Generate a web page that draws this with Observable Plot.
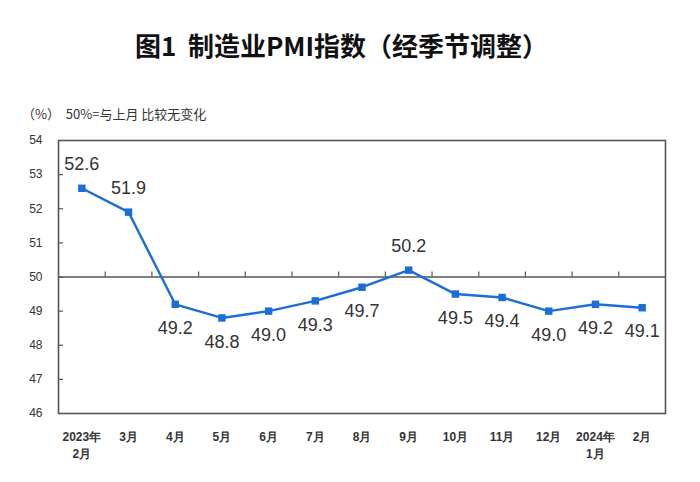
<!DOCTYPE html>
<html>
<head>
<meta charset="utf-8">
<script src="https://cdn.jsdelivr.net/npm/d3@7"></script>
<script src="https://cdn.jsdelivr.net/npm/@observablehq/plot@0.6"></script>
<style>
  html, body { margin: 0; padding: 0; background: #fff; }
  #wrap { position: relative; width: 700px; height: 482px; overflow: hidden; }
  #title { position: absolute; left: 0; width: 683px; top: 26px; text-align: center;
           font-family: "Noto Sans CJK SC", sans-serif; font-weight: 700; font-size: 26px; color: #111; }
  #unit { position: absolute; left: 22px; top: 104px; font-family: "Noto Sans CJK SC", "Liberation Sans", sans-serif;
          font-size: 13px; color: #333; white-space: pre; }
  #chart { position: absolute; left: 0; top: 0; }
</style>
</head>
<body>
<div id="wrap">
  <div id="chart"></div>
  <div id="title">图1&nbsp;&nbsp;制造业PMI指数（经季节调整）</div>
  <div id="unit">（%）  50%=与上月 比较无变化</div>
</div>
<script>
const months = ["2023年\n2月", "3月", "4月", "5月", "6月", "7月", "8月", "9月", "10月", "11月", "12月", "2024年\n1月", "2月"];
const pmi = [52.6, 51.9, 49.2, 48.8, 49.0, 49.3, 49.7, 50.2, 49.5, 49.4, 49.0, 49.2, 49.1];
const labelAbove = [true, true, false, false, false, false, false, true, false, false, false, false, false];
const yTicks = [46, 47, 48, 49, 50, 51, 52, 53, 54];

const data = pmi.map((v, i) => ({i, v, above: labelAbove[i]}));
const boundaries = d3.range(1, months.length).map(i => i - 0.5);
const blue = "#1a6ed6";

const chart = Plot.plot({
  width: 700,
  height: 482,
  marginTop: 140,
  marginBottom: 69,
  marginLeft: 58,
  marginRight: 35,
  style: {fontFamily: "Liberation Sans, Arial, sans-serif", background: "#fff"},
  x: {type: "linear", domain: [-0.5, months.length - 0.5]},
  y: {domain: [46, 54]},
  marks: [
    Plot.frame({stroke: "#555", strokeWidth: 1.6}),
    Plot.ruleY([50], {stroke: "#555", strokeWidth: 1.3}),
    Plot.ruleX(boundaries, {x: d => d, y1: 50, y2: 50, insetTop: -5, stroke: "#555", strokeWidth: 1.2}),
    Plot.ruleY(yTicks.slice(1, -1), {y: d => d, x1: -0.5, x2: -0.5, insetRight: -5, stroke: "#555", strokeWidth: 1.2}),
    Plot.axisY({ticks: yTicks, tickSize: 0, tickPadding: 16, fontSize: 12, fill: "#333", label: null, tickFormat: d => d}),
    Plot.axisX({ticks: d3.range(months.length), tickSize: 0, tickPadding: 16, fontSize: 12, fontWeight: 600,
                lineHeight: 1.4, fill: "#333", label: null, tickFormat: i => months[i]}),
    Plot.line(data, {x: "i", y: "v", stroke: blue, strokeWidth: 2.4}),
    Plot.dot(data, {x: "i", y: "v", symbol: "square", r: 4.2, fill: blue, stroke: null}),
    Plot.text(data.filter(d => d.above), {x: "i", y: "v", text: d => d.v.toFixed(1), dy: -24, fontSize: 18, fill: "#333"}),
    Plot.text(data.filter(d => !d.above), {x: "i", y: "v", text: d => d.v.toFixed(1), dy: 24, fontSize: 18, fill: "#333"})
  ]
});
document.getElementById("chart").appendChild(chart);
</script>
</body>
</html>
